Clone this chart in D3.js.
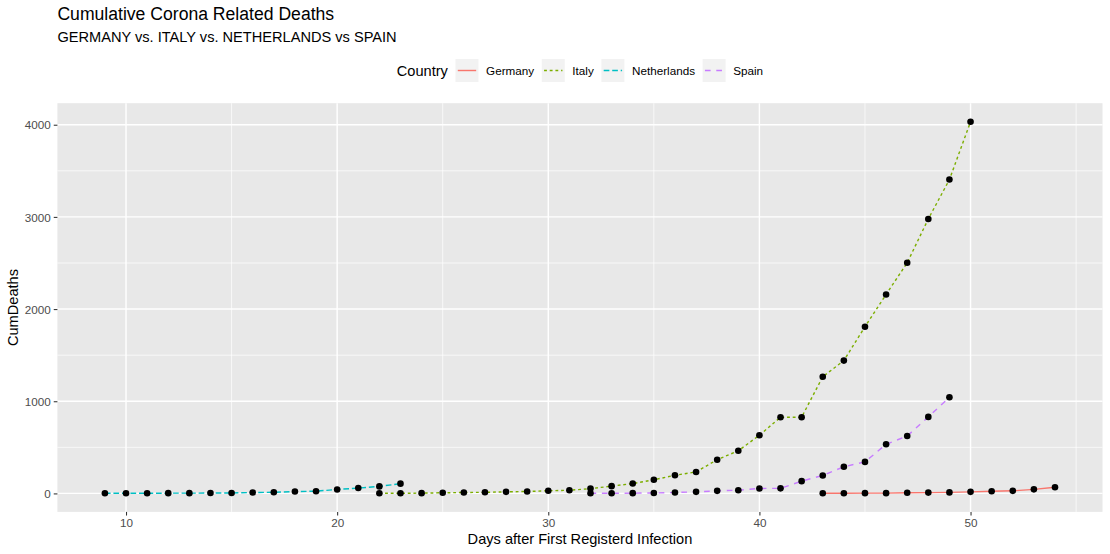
<!DOCTYPE html>
<html>
<head>
<meta charset="utf-8">
<script src="https://cdn.jsdelivr.net/npm/d3@7"></script>
<style>
  html, body { margin: 0; padding: 0; background: #fff; }
  svg { display: block; font-family: "Liberation Sans", Arial, sans-serif; }
</style>
</head>
<body>
<svg id="chart"></svg>
<script>
// ============================================================================
// Data
// ============================================================================

const countries = ["Germany", "Italy", "Netherlands", "Spain"];

const germanyDays = [43, 44, 45, 46, 47, 48, 49, 50, 51, 52, 53, 54];
const germanyDeaths = [2, 2, 3, 3, 7, 9, 11, 17, 24, 28, 44, 67];

const italyDays = [22, 23, 24, 25, 26, 27, 28, 29, 30, 31, 32, 33, 34, 35, 36,
  37, 38, 39, 40, 41, 42, 43, 44, 45, 46, 47, 48, 49, 50];
const italyDeaths = [1, 2, 3, 7, 10, 12, 17, 21, 29, 34, 52, 79, 107, 148, 197,
  233, 366, 463, 631, 827, 827, 1266, 1441, 1809, 2158, 2503, 2978, 3405, 4032];

const netherlandsDays = [9, 10, 11, 12, 13, 14, 15, 16, 17, 18, 19, 20, 21, 22, 23];
const netherlandsDeaths = [1, 1, 1, 3, 3, 4, 5, 10, 12, 20, 24, 43, 58, 76, 106];

const spainDays = [32, 33, 34, 35, 36, 37, 38, 39, 40, 41, 42, 43, 44, 45, 46, 47, 48, 49];
const spainDeaths = [1, 2, 3, 5, 10, 17, 28, 35, 54, 55, 133, 195, 289, 342, 533, 623, 830, 1043];

const xTicks = [10, 20, 30, 40, 50];
const xMinor = [15, 25, 35, 45, 55];
const yTicks = [0, 1000, 2000, 3000, 4000];
const yMinor = [500, 1500, 2500, 3500];

const titleText = "Cumulative Corona Related Deaths";
const subtitleText = "GERMANY vs. ITALY vs. NETHERLANDS vs SPAIN";
const xTitle = "Days after First Registerd Infection";
const yTitle = "CumDeaths";
const legendTitle = "Country";

// ============================================================================
// Configuration
// ============================================================================

const PLOT_CONFIG = {
  width: 1110,
  height: 554,
  margin: { top: 103.2, right: 7.5, bottom: 42.1, left: 57.4 }
};

const COLORS = {
  Germany: "#F8766D",
  Italy: "#7CAE00",
  Netherlands: "#00BFC4",
  Spain: "#C77CFF"
};

const LWD = 1.42;
const DASHES = {
  Germany: null,
  Italy: [2 * LWD, 2 * LWD].join(","),
  Netherlands: [4 * LWD, 2 * LWD].join(","),
  Spain: [4 * LWD, 4 * LWD].join(",")
};

const series = [
  { name: "Germany", days: germanyDays, deaths: germanyDeaths },
  { name: "Italy", days: italyDays, deaths: italyDeaths },
  { name: "Netherlands", days: netherlandsDays, deaths: netherlandsDeaths },
  { name: "Spain", days: spainDays, deaths: spainDeaths }
].map(s => ({
  name: s.name,
  values: s.days.map((d, i) => ({ x: d, y: s.deaths[i] }))
}));

// ============================================================================
// Scales
// ============================================================================

const { width, height, margin } = PLOT_CONFIG;
const panel = {
  x0: margin.left, x1: width - margin.right,
  y0: margin.top, y1: height - margin.bottom
};

const allPoints = series.flatMap(s => s.values);
const xExt = d3.extent(allPoints, d => d.x);
const yExt = d3.extent(allPoints, d => d.y);
const xPad = (xExt[1] - xExt[0]) * 0.05;
const yPad = (yExt[1] - yExt[0]) * 0.05;

const x = d3.scaleLinear()
  .domain([xExt[0] - xPad, xExt[1] + xPad])
  .range([panel.x0, panel.x1]);
const y = d3.scaleLinear()
  .domain([yExt[0] - yPad, yExt[1] + yPad])
  .range([panel.y1, panel.y0]);

// ============================================================================
// Render
// ============================================================================

const svg = d3.select("#chart")
  .attr("width", width)
  .attr("height", height);

svg.append("rect")
  .attr("width", width).attr("height", height).attr("fill", "#fff");

// panel background
svg.append("rect")
  .attr("x", panel.x0).attr("y", panel.y0)
  .attr("width", panel.x1 - panel.x0).attr("height", panel.y1 - panel.y0)
  .attr("fill", "#E8E8E8");

const grid = svg.append("g");

grid.selectAll(".xminor").data(xMinor).enter().append("line")
  .attr("x1", d => x(d)).attr("x2", d => x(d))
  .attr("y1", panel.y0).attr("y2", panel.y1)
  .attr("stroke", "#fff").attr("stroke-width", LWD / 2);
grid.selectAll(".yminor").data(yMinor).enter().append("line")
  .attr("y1", d => y(d)).attr("y2", d => y(d))
  .attr("x1", panel.x0).attr("x2", panel.x1)
  .attr("stroke", "#fff").attr("stroke-width", LWD / 2);
grid.selectAll(".xmajor").data(xTicks).enter().append("line")
  .attr("x1", d => x(d)).attr("x2", d => x(d))
  .attr("y1", panel.y0).attr("y2", panel.y1)
  .attr("stroke", "#fff").attr("stroke-width", LWD);
grid.selectAll(".ymajor").data(yTicks).enter().append("line")
  .attr("y1", d => y(d)).attr("y2", d => y(d))
  .attr("x1", panel.x0).attr("x2", panel.x1)
  .attr("stroke", "#fff").attr("stroke-width", LWD);

// lines
const line = d3.line().x(d => x(d.x)).y(d => y(d.y));

svg.append("g").selectAll("path")
  .data(series)
  .enter()
  .append("path")
  .attr("d", d => line(d.values))
  .attr("fill", "none")
  .attr("stroke", d => COLORS[d.name])
  .attr("stroke-width", LWD)
  .attr("stroke-dasharray", d => DASHES[d.name]);

// points
svg.append("g").selectAll("circle")
  .data(allPoints)
  .enter()
  .append("circle")
  .attr("cx", d => x(d.x))
  .attr("cy", d => y(d.y))
  .attr("r", 3.3)
  .attr("fill", "#000");

// axes
const TICK_LEN = 3.66;
const TICK_FONT = 11.7;

const xAxis = d3.axisBottom(x).tickValues(xTicks).tickFormat(d3.format("d"))
  .tickSize(TICK_LEN).tickPadding(2.9);
const gx = svg.append("g")
  .attr("transform", `translate(0,${panel.y1})`)
  .call(xAxis);

const yAxis = d3.axisLeft(y).tickValues(yTicks).tickFormat(d3.format("d"))
  .tickSize(TICK_LEN).tickPadding(2.9);
const gy = svg.append("g")
  .attr("transform", `translate(${panel.x0},0)`)
  .call(yAxis);

[gx, gy].forEach(g => {
  g.select(".domain").remove();
  g.selectAll(".tick line").attr("stroke", "#333333").attr("stroke-width", 1.07);
  g.selectAll(".tick text")
    .attr("fill", "#4D4D4D")
    .style("font-size", TICK_FONT + "px")
    .style("font-family", "'Liberation Sans', Arial, sans-serif");
});
gx.selectAll(".tick text").attr("dy", null).attr("y", TICK_LEN + 2.9 + 8.6);
gy.selectAll(".tick text").attr("dy", "0.35em");

// axis titles
svg.append("text")
  .attr("x", (panel.x0 + panel.x1) / 2)
  .attr("y", 544)
  .attr("text-anchor", "middle")
  .style("font-size", "14.6px")
  .attr("fill", "#000")
  .text(xTitle);

svg.append("text")
  .attr("transform", `translate(18.4,${(panel.y0 + panel.y1) / 2}) rotate(-90)`)
  .attr("text-anchor", "middle")
  .style("font-size", "14.6px")
  .attr("fill", "#000")
  .text(yTitle);

// titles
svg.append("text")
  .attr("x", panel.x0)
  .attr("y", 19.5)
  .style("font-size", "17.6px")
  .attr("fill", "#000")
  .text(titleText);

svg.append("text")
  .attr("x", panel.x0)
  .attr("y", 41.5)
  .style("font-size", "14.6px")
  .attr("fill", "#000")
  .text(subtitleText);

// legend
const KEY = 23;
const GAP = 7.6;
const legendMid = 70.5;
const legend = svg.append("g");

let cursor = 0;
const lt = legend.append("text")
  .attr("x", cursor)
  .attr("y", legendMid + 5.2)
  .style("font-size", "14.6px")
  .attr("fill", "#000")
  .text(legendTitle);
cursor += lt.node().getComputedTextLength() + GAP;

countries.forEach(name => {
  legend.append("rect")
    .attr("x", cursor).attr("y", legendMid - KEY / 2)
    .attr("width", KEY).attr("height", KEY)
    .attr("fill", "#F2F2F2");
  legend.append("line")
    .attr("x1", cursor + KEY * 0.1).attr("x2", cursor + KEY * 0.9)
    .attr("y1", legendMid).attr("y2", legendMid)
    .attr("stroke", COLORS[name])
    .attr("stroke-width", LWD)
    .attr("stroke-dasharray", DASHES[name]);
  cursor += KEY + GAP;
  const t = legend.append("text")
    .attr("x", cursor)
    .attr("y", legendMid + 4.2)
    .style("font-size", "11.7px")
    .attr("fill", "#000")
    .text(name);
  cursor += t.node().getComputedTextLength() + GAP;
});
cursor -= GAP;

legend.attr("transform", `translate(${(panel.x0 + panel.x1) / 2 - cursor / 2},0)`);
</script>
</body>
</html>
